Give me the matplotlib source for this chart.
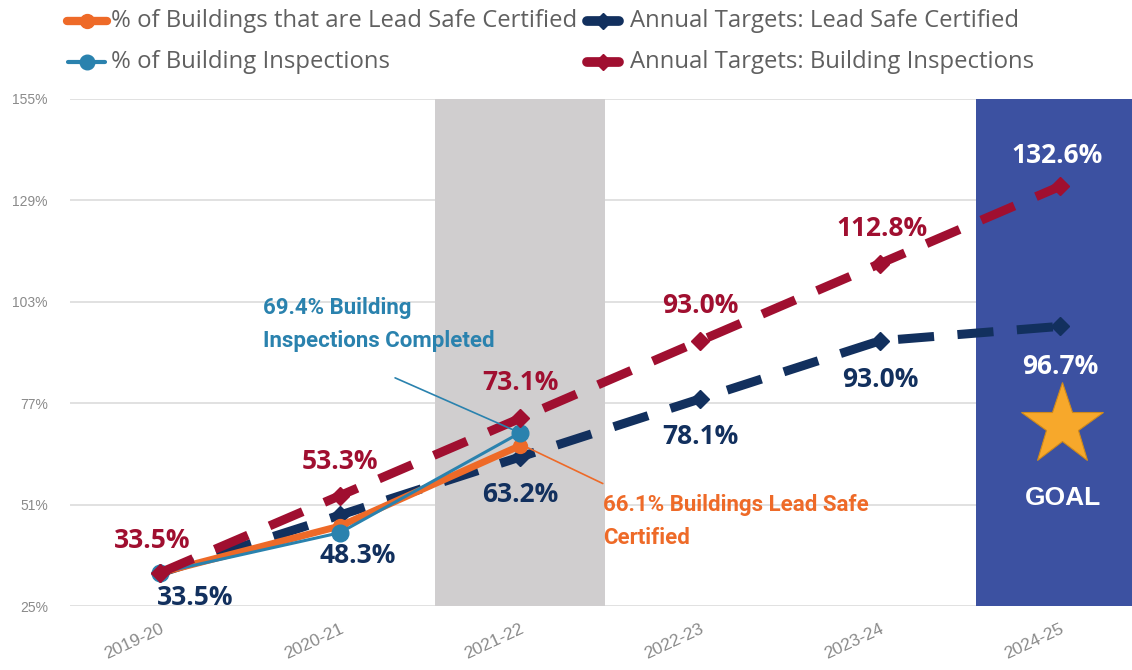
import matplotlib
matplotlib.use("Agg")
import matplotlib.pyplot as plt
from matplotlib.lines import Line2D
from matplotlib import font_manager

# ---------------- data ----------------
years = ["2019-20", "2020-21", "2021-22", "2022-23", "2023-24", "2024-25"]
lead_safe = [33.5, 45.5, 66.1]            # % of Buildings that are Lead Safe Certified
inspections = [33.5, 43.8, 69.4]          # % of Building Inspections
target_lead = [33.5, 48.3, 63.2, 78.1, 93.0, 96.7]
target_insp = [33.5, 53.3, 73.1, 93.0, 112.8, 132.6]
yticks = [25, 51, 77, 103, 129, 155]
legend_labels = ["% of Buildings that are Lead Safe Certified",
                 "% of Building Inspections",
                 "Annual Targets: Lead Safe Certified",
                 "Annual Targets: Building Inspections"]
note_insp = "69.4% Building\nInspections Completed"
note_lead = "66.1% Buildings Lead Safe\nCertified"
goal_text = "GOAL"

# ---------------- style ----------------
C_OR = "#EE6A28"
C_TEAL = "#2A82AE"
C_NAVY = "#12305E"
C_RED = "#A00F30"
C_GRAY = "#D0CECF"
C_BOX = "#3C51A1"
C_STAR = "#F7A82B"

names = {f.name for f in font_manager.fontManager.ttflist}
COND = "Liberation Sans Narrow" if "Liberation Sans Narrow" in names else "Roboto"
MAIN = "Open Sans"

W, H = 1132, 670
fig = plt.figure(figsize=(W / 100, H / 100), dpi=100)
ax = fig.add_axes([70 / W, 1 - 606 / H, 1 - 70 / W, (606 - 99) / H])
x = list(range(len(years)))

ax.set_xlim(-0.5, 5.4)
ax.set_ylim(25, 155)
for s in ax.spines.values():
    s.set_visible(False)
ax.set_axisbelow(True)
ax.set_yticks(yticks)
ax.set_yticklabels([f"{v}%" for v in yticks], fontsize=10, color="#8A8A8A",
                   fontfamily="Liberation Sans")
ax.yaxis.grid(True, color="#DCDCDC", lw=1.2)
ax.tick_params(axis="y", length=0, pad=16)
ax.set_xticks(x)
ax.set_xticklabels(years, rotation=25, ha="right", rotation_mode="anchor",
                   fontsize=12.5, color="#8A8A8A", fontfamily="Liberation Sans")
ax.tick_params(axis="x", length=0, pad=11)

# bands (cover the grid)
ax.axvspan(2 - 0.47, 2 + 0.47, color=C_GRAY, zorder=1, lw=0)
ax.axvspan(4.533, 5.6, color=C_BOX, zorder=1, lw=0)

# series
ax.plot(x, target_lead, color=C_NAVY, lw=6.5, dashes=(4, 2.6), marker="D",
        ms=9, zorder=3)
ax.plot(x[:3], lead_safe, color=C_OR, lw=5, marker="o", ms=10, zorder=4)
ax.plot(x[:3], inspections, color=C_TEAL, lw=2.2, marker="o", ms=12, zorder=5)
ax.plot(x, target_insp, color=C_RED, lw=6.5, dashes=(4, 2.6), marker="D",
        ms=9, zorder=6)

# data labels
red_off = [(-8, 32), (0, 34), (0, 36), (0, 35), (2, 35), (-3, 31)]
navy_off = [(35, -25), (18, -40), (0, -37), (0, -38), (0, -39), (0, -40)]
for i, v in enumerate(target_insp):
    col = "white" if i == 5 else C_RED
    ax.annotate(f"{v:.1f}%", (i, v), xytext=red_off[i], textcoords="offset pixels",
                ha="center", va="center", fontsize=19, fontweight="bold",
                color=col, fontfamily=MAIN, zorder=8)
for i, v in enumerate(target_lead):
    col = "white" if i == 5 else C_NAVY
    ax.annotate(f"{v:.1f}%", (i, v), xytext=navy_off[i], textcoords="offset pixels",
                ha="center", va="center", fontsize=19, fontweight="bold",
                color=col, fontfamily=MAIN, zorder=8)

# callouts
ax.annotate("", xy=(2, inspections[2]), xytext=(1.306, 83.5),
            arrowprops=dict(arrowstyle="-", color=C_TEAL, lw=1.2,
                            shrinkA=0, shrinkB=3), zorder=7)
ax.text(0.572, 104.2, note_insp, ha="left", va="top", fontsize=16,
        fontweight="bold", color=C_TEAL, fontfamily=COND, linespacing=1.62,
        zorder=8)
ax.annotate("", xy=(2.02, lead_safe[2]), xytext=(2.46, 56.4),
            arrowprops=dict(arrowstyle="-", color=C_OR, lw=1.2,
                            shrinkA=0, shrinkB=0), zorder=7)
ax.text(2.461, 53.6, note_lead, ha="left", va="top", fontsize=16,
        fontweight="bold", color=C_OR, fontfamily=COND, linespacing=1.62,
        zorder=8)

# goal star
ax.plot([5.01], [71.5], marker="*", ms=62, color=C_STAR, mec="#D08A1A",
        mew=0.8, zorder=7)
ax.text(5.015, 52.8, goal_text, ha="center", va="center", fontsize=19,
        fontweight="bold", color="white", fontfamily="Liberation Sans", zorder=8)

# legend (manual)
leg = [
    (67, 107, 21, C_OR, "o", 10, 6, legend_labels[0], 111),
    (68, 105, 62, C_TEAL, "o", 10.5, 3, legend_labels[1], 111),
    (587, 619, 21, C_NAVY, "D", 8.5, 7, legend_labels[2], 630),
    (587, 619, 62, C_RED, "D", 8.5, 7, legend_labels[3], 630),
]
for x0, x1, yy, col, mk, ms, lw, lab, tx in leg:
    fy = 1 - yy / H
    fig.add_artist(Line2D([x0 / W, x1 / W], [fy, fy], transform=fig.transFigure,
                          color=col, lw=lw, solid_capstyle="round"))
    fig.add_artist(Line2D([(x0 + x1) / 2 / W], [fy], transform=fig.transFigure,
                          color=col, marker=mk, ms=ms, lw=0))
    fig.text(tx / W, fy, lab, ha="left", va="center", fontsize=17.2,
             color="#606060", fontfamily=MAIN)

fig.savefig("out.png", dpi=100, facecolor="white")
